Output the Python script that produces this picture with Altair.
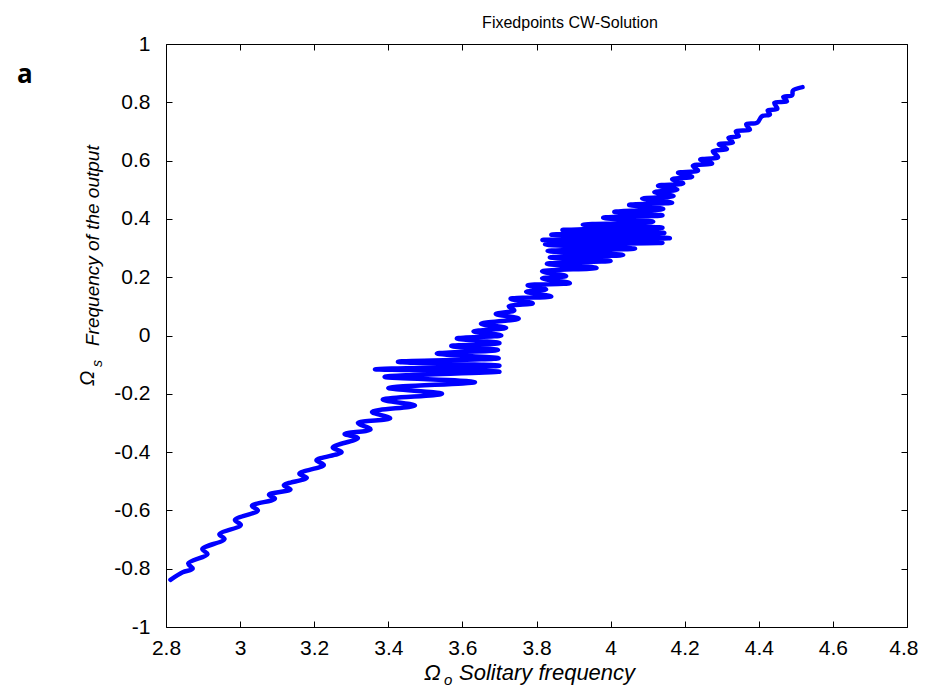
import altair as alt
import pandas as pd

# ---- path of the fixed-point curve (in drawing order) ----
xs = [2.812, 2.845, 2.872, 2.860, 2.912, 2.898, 2.958, 2.944, 3.002, 2.986,
      3.048, 3.032, 3.094, 3.078, 3.136, 3.118, 3.180, 3.160, 3.226, 3.206,
      3.274, 3.250, 3.318, 3.282,
      3.352, 3.318, 3.405, 3.356, 3.472, 3.385, 3.545, 3.400, 3.634, 3.390,
      3.700, 3.364, 3.700, 3.426, 3.698, 3.531, 3.696, 3.570, 3.700, 3.585, 3.705,
      3.630, 3.718, 3.650, 3.752, 3.690, 3.740, 3.725, 3.790, 3.730, 3.840,
      3.772, 3.826, 3.776, 3.890, 3.815, 3.880,
      3.815, 3.962, 3.828, 4.000, 3.836, 4.034, 3.830, 4.066, 3.823, 4.140,
      3.816, 4.160, 3.840, 4.145, 3.870, 4.140, 3.925, 4.115, 3.980, 4.140,
      4.010, 4.142, 4.050, 4.166, 4.085, 4.170,
      4.118, 4.180, 4.128, 4.196, 4.166, 4.220, 4.182, 4.236, 4.222, 4.274,
      4.242, 4.290, 4.276, 4.314, 4.292, 4.330, 4.318, 4.346, 4.338, 4.376,
      4.366, 4.396, 4.408, 4.430, 4.424, 4.450, 4.442, 4.476, 4.466, 4.490,
      4.492, 4.518]
ys = [-0.838, -0.812, -0.800, -0.782, -0.750, -0.733, -0.698, -0.682, -0.650, -0.633,
      -0.600, -0.584, -0.560, -0.546, -0.528, -0.514, -0.488, -0.474, -0.444, -0.428,
      -0.400, -0.384, -0.352, -0.338,
      -0.322, -0.300, -0.284, -0.262, -0.240, -0.220, -0.200, -0.180, -0.160, -0.142,
      -0.124, -0.116, -0.104, -0.090, -0.078, -0.062, -0.050, -0.036, -0.026, -0.010, 0.000,
      0.014, 0.026, 0.040, 0.058, 0.074, 0.086, 0.100, 0.110, 0.126, 0.134,
      0.150, 0.158, 0.172, 0.180, 0.196, 0.204,
      0.220, 0.232, 0.246, 0.256, 0.268, 0.276, 0.290, 0.298, 0.312, 0.318,
      0.328, 0.334, 0.346, 0.352, 0.362, 0.370, 0.380, 0.390, 0.404, 0.412,
      0.424, 0.434, 0.448, 0.456, 0.470, 0.478,
      0.492, 0.500, 0.514, 0.522, 0.536, 0.544, 0.558, 0.566, 0.582, 0.590,
      0.604, 0.612, 0.632, 0.640, 0.656, 0.662, 0.678, 0.684, 0.700, 0.706,
      0.724, 0.730, 0.752, 0.758, 0.772, 0.778, 0.798, 0.804, 0.818, 0.824,
      0.840, 0.852]

x_ticks = [2.8, 3.0, 3.2, 3.4, 3.6, 3.8, 4.0, 4.2, 4.4, 4.6, 4.8]
y_ticks = [-1.0, -0.8, -0.6, -0.4, -0.2, 0.0, 0.2, 0.4, 0.6, 0.8, 1.0]

title_text = "Fixedpoints CW-Solution"
panel_text = "a"
omega = "\u03a9"
x_sub = "o"
x_label = "Solitary frequency"
y_sub = "s"
y_label = "Frequency of the output"

df = pd.DataFrame({"x": xs, "y": ys, "i": list(range(len(xs)))})

W, H = 741, 583
FONT = "Liberation Sans"
TICK = 6
label_expr = "datum.value < 0 ? '-' + format(-datum.value, '~g') : format(datum.value, '~g')"

xscale = alt.Scale(domain=[2.8, 4.8], nice=False, zero=False)
yscale = alt.Scale(domain=[-1, 1], nice=False, zero=False)

common_axis = dict(offset=-TICK, tickSize=TICK, tickColor="black", tickWidth=1,
                   domain=False, grid=False, title=None, labelFlush=False,
                   labelOverlap=False)

line = alt.Chart(df).mark_line(
    color="#0000ff", strokeWidth=4.5, strokeCap="round", strokeJoin="round",
    interpolate="catmull-rom"
).encode(
    x=alt.X("x:Q", scale=xscale,
            axis=alt.Axis(orient="bottom", values=x_ticks, labelExpr=label_expr,
                          labelFont=FONT, labelFontSize=21, labelColor="black",
                          labelPadding=10,
                          labelAlign={"condition": {"test": "datum.value > 4.79", "value": "right"},
                                      "value": "center"},
                          labelOffset={"condition": {"test": "datum.value > 4.79", "value": 11},
                                       "value": 0},
                          **common_axis)),
    y=alt.Y("y:Q", scale=yscale,
            axis=alt.Axis(orient="left", values=y_ticks, labelExpr=label_expr,
                          labelFont=FONT, labelFontSize=21, labelColor="black",
                          labelPadding=16, **common_axis)),
    order="i:Q",
)

ghost = alt.Chart(df).mark_line(strokeOpacity=0).encode(
    x=alt.X("x:Q", scale=xscale,
            axis=alt.Axis(orient="top", values=x_ticks, labels=False, **common_axis)),
    y=alt.Y("y:Q", scale=yscale,
            axis=alt.Axis(orient="right", values=y_ticks, labels=False, **common_axis)),
    order="i:Q",
)


def txt(s, x, y, size, style="normal", weight="normal", angle=0, font=FONT, align="left"):
    return alt.Chart(pd.DataFrame({"t": [s]})).mark_text(
        font=font, fontSize=size, fontStyle=style, fontWeight=weight,
        angle=angle, align=align, baseline="alphabetic", color="black"
    ).encode(text="t:N", x=alt.value(x), y=alt.value(y))


texts = [
    txt(title_text, 404, -16, 16, align="center"),
    txt(panel_text, -149, 39, 26, weight="bold", font="Open Sans"),
    txt(omega, 258, 636, 22, style="italic"),
    txt(x_sub, 278, 641, 15, style="italic"),
    txt(x_label, 293, 636, 22, style="italic"),
    txt(omega, -72, 342, 20, style="italic", angle=270),
    txt(y_sub, -64, 323, 14, style="italic", angle=270),
    txt(y_label, -67, 302, 19, style="italic", angle=270),
]

chart = alt.layer(line, ghost, *texts).resolve_axis(
    x="independent", y="independent"
).properties(
    width=W, height=H,
    autosize=alt.AutoSizeParams(type="none"),
    padding={"left": 158, "top": 36, "right": 11, "bottom": 61},
    background="white",
).configure_view(stroke="black", strokeWidth=1)

chart.save("out.html", embed_options={"renderer": "svg", "actions": False})
